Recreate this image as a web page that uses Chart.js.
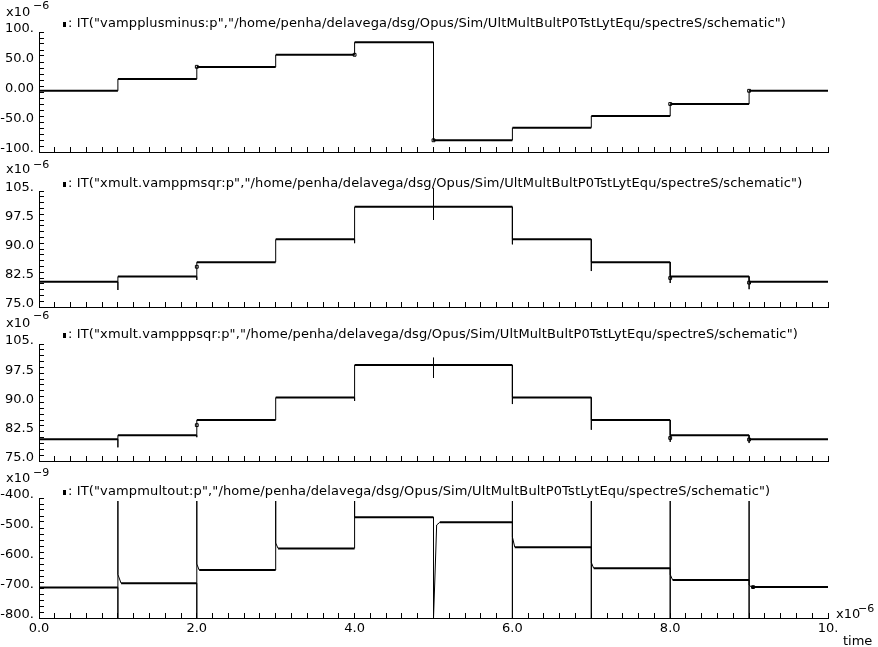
<!DOCTYPE html>
<html>
<head>
<meta charset="utf-8">
<script src="https://cdn.jsdelivr.net/npm/chart.js@4.4.1/dist/chart.umd.min.js"></script>
<style>
  html, body { margin: 0; padding: 0; background: #fff; }
  #page { position: relative; width: 878px; height: 647px; overflow: hidden;
          font-family: "DejaVu Sans", sans-serif; font-size: 13px; color: #000; }
  canvas { position: absolute; left: 0; }
  .txt { position: absolute; white-space: nowrap; line-height: 13px; }
  .ttl { letter-spacing: 0.13px; }
  .sup { position: absolute; white-space: nowrap; font-size: 11px; line-height: 11px; }
  .mark { display: inline-block; width: 3px; height: 5px; background: #000; margin-right: 2px; vertical-align: 0; }
</style>
</head>
<body>
<div id="page">
  <canvas id="c1" width="878" height="160" style="top:12px"></canvas>
  <canvas id="c2" width="878" height="156" style="top:171px"></canvas>
  <canvas id="c3" width="878" height="157" style="top:324px"></canvas>
  <canvas id="c4" width="878" height="170" style="top:478px"></canvas>

  <div class="txt" style="left:6px;top:5px">x10</div>
  <div class="sup" style="left:33px;top:0px">−6</div>
  <div class="txt ttl" style="left:63px;top:16px"><span class="mark"></span>: IT("vampplusminus:p","/home/penha/delavega/dsg/Opus/Sim/UltMultBultP0TstLytEqu/spectreS/schematic")</div>

  <div class="txt" style="left:6px;top:162px">x10</div>
  <div class="sup" style="left:33px;top:159px">−6</div>
  <div class="txt ttl" style="left:63px;top:176px"><span class="mark"></span>: IT("xmult.vamppmsqr:p","/home/penha/delavega/dsg/Opus/Sim/UltMultBultP0TstLytEqu/spectreS/schematic")</div>

  <div class="txt" style="left:6px;top:316px">x10</div>
  <div class="sup" style="left:33px;top:310px">−6</div>
  <div class="txt ttl" style="left:63px;top:327px"><span class="mark"></span>: IT("xmult.vampppsqr:p","/home/penha/delavega/dsg/Opus/Sim/UltMultBultP0TstLytEqu/spectreS/schematic")</div>

  <div class="txt" style="left:6px;top:471px">x10</div>
  <div class="sup" style="left:33px;top:467px">−9</div>
  <div class="txt ttl" style="left:63px;top:484px"><span class="mark"></span>: IT("vampmultout:p","/home/penha/delavega/dsg/Opus/Sim/UltMultBultP0TstLytEqu/spectreS/schematic")</div>

  <div class="txt" style="left:836px;top:607px">x10</div>
  <div class="sup" style="left:858px;top:603px">−6</div>
  <div class="txt" style="left:843px;top:634px">time</div>
</div>

<script>
// ---------- Data ----------
const timeTicks = [0, 2, 4, 6, 8, 10];
const timeTickLabels = ['0.0', '2.0', '4.0', '6.0', '8.0', '10.'];

// vampplusminus (x1e-6)
const pmTime = [0, 1, 1, 2, 2, 3, 3, 4, 4, 5, 5, 6, 6, 7, 7, 8, 8, 9, 9, 10];
const pmValue = [2, 2, 21.5, 21.5, 41.5, 41.5, 62, 62, 83, 83, -80.5, -80.5, -59.5, -59.5, -40, -40, -20, -20, 2, 2];
const pmMarkTime = [2, 4, 5, 8, 9];
const pmMarkValue = [42, 62, -80.5, -20, 2];
const pmTicks = [-100, -50, 0, 50, 100];
const pmTickLabels = ['-100.', '-50.0', '0.00', '50.0', '100.'];

// xmult.vamppmsqr (x1e-6)
const pmsqTime = [0, 1, 1, 1, 2, 2, 2, 3, 3, 4, 4, 4, 5, 5, 5, 5, 6, 6, 6, 7, 7, 7, 8, 8, 8, 9, 9, 9, 10];
const pmsqValue = [81.5, 81.5, 79.4, 82.9, 82.9, 82.0, 86.6, 86.6, 92.5, 92.5, 91.5, 100.9, 100.9, 105.8, 97.5, 100.9,
                   100.9, 91.2, 92.5, 92.5, 84.3, 86.6, 86.6, 81.2, 82.9, 82.9, 79.6, 81.5, 81.5];
const pmsqMarkTime = [2, 8, 9];
const pmsqMarkValue = [85.4, 82.5, 81.3];

// xmult.vampppsqr (x1e-6)
const ppsqTime = [0, 1, 1, 1, 2, 2, 2, 3, 3, 4, 4, 4, 5, 5, 5, 5, 6, 6, 6, 7, 7, 7, 8, 8, 8, 9, 9, 9, 10];
const ppsqValue = [80.6, 80.6, 78.5, 81.6, 81.6, 81.1, 85.5, 85.5, 91.3, 91.3, 90.4, 99.6, 99.6, 101.5, 96.3, 99.6,
                   99.6, 89.6, 91.3, 91.3, 83.0, 85.5, 85.5, 79.9, 81.6, 81.6, 79.6, 80.6, 80.6];
const ppsqMarkTime = [2, 8, 9];
const ppsqMarkValue = [84.2, 80.9, 80.5];

const sqrTicks = [75, 82.5, 90, 97.5, 105];
const sqrTickLabels = ['75.0', '82.5', '90.0', '97.5', '105.'];

// vampmultout (x1e-9)
const outTime = [0, 1, 1, 1, 1, 1.04, 2, 2, 2, 2, 2.03, 3, 3, 3, 3.03, 4, 4, 4,
                 5, 5, 5.02, 5.04, 5.08, 6, 6, 6, 6, 6.03, 7, 7, 7, 7, 7.03,
                 8, 8, 8, 8, 8.03, 9, 9, 9, 9, 9.03, 10];
const outValue = [-698, -698, -800, -410, -655, -684, -684, -800, -410, -620, -640, -640, -410, -550, -568, -568, -410, -464,
                  -464, -800, -650, -490, -481, -481, -410, -800, -530, -564, -564, -410, -800, -615, -634,
                  -634, -410, -800, -655, -673, -673, -410, -800, -690, -697, -697];
const outMarkTime = [9.05];
const outMarkValue = [-697];
const outTicks = [-800, -700, -600, -500, -400];
const outTickLabels = ['-800.', '-700.', '-600.', '-500.', '-400.'];

// ---------- Helpers ----------
const tickFont = { family: 'DejaVu Sans', size: 13 };

function labelFor(v, values, labels) {
  const i = values.findIndex(m => Math.abs(m - v) < 1e-6);
  return i >= 0 ? labels[i] : '';
}

// negative tickLength puts the tick marks inside the plot, like the waveform viewer
const axisGrid = { drawOnChartArea: false, drawTicks: true, tickLength: -5, color: '#000', lineWidth: 1 };

// ---------- Panel ----------
// top padding and x-axis height are kept larger than the y labels' overhang,
// so the plot area is exactly canvas height - 20 - x height
function renderPanel(id, time, value, markTime, markValue, yMin, yMax, yStep, yTicks, yTickLabels, showTime) {
  const ctx = document.getElementById(id).getContext('2d');
  return new Chart(ctx, {
    type: 'line',
    data: {
      datasets: [
        {
          data: time.map((t, i) => ({ x: t, y: value[i] })),
          borderColor: '#000',
          borderWidth: 2,
          pointRadius: 0,
          tension: 0,
          clip: 6,
          segment: { borderWidth: s => (s.p0.parsed.y === s.p1.parsed.y ? 2 : 1) }
        },
        {
          data: markTime.map((t, i) => ({ x: t, y: markValue[i] })),
          showLine: false,
          pointStyle: 'rect',
          pointRadius: 2,
          borderColor: '#000',
          borderWidth: 1,
          backgroundColor: '#fff',
          clip: 6
        }
      ]
    },
    options: {
      responsive: false,
      animation: false,
      events: [],
      layout: { autoPadding: false, padding: { top: 20, left: 0, right: 50, bottom: 0 } },
      plugins: { legend: { display: false }, tooltip: { enabled: false } },
      scales: {
        x: {
          type: 'linear',
          min: 0,
          max: 10,
          grid: axisGrid,
          border: { color: '#000', width: 1 },
          ticks: {
            stepSize: 0.2,
            autoSkip: false,
            maxRotation: 0,
            display: showTime,
            padding: 8,
            color: '#000',
            font: tickFont,
            callback: v => labelFor(v, timeTicks, timeTickLabels)
          },
          afterFit: s => { s.height = showTime ? 30 : 20; }
        },
        y: {
          type: 'linear',
          min: yMin,
          max: yMax,
          grid: axisGrid,
          border: { color: '#000', width: 1 },
          ticks: {
            stepSize: yStep,
            autoSkip: false,
            padding: 10,
            labelOffset: -3,
            color: '#000',
            font: tickFont,
            callback: v => labelFor(v, yTicks, yTickLabels)
          },
          afterFit: s => { s.width = 39; }
        }
      }
    }
  });
}

// ---------- Render ----------
renderPanel('c1', pmTime, pmValue, pmMarkTime, pmMarkValue, -100, 100, 10, pmTicks, pmTickLabels, false);
renderPanel('c2', pmsqTime, pmsqValue, pmsqMarkTime, pmsqMarkValue, 75, 105, 1.5, sqrTicks, sqrTickLabels, false);
renderPanel('c3', ppsqTime, ppsqValue, ppsqMarkTime, ppsqMarkValue, 75, 105, 1.5, sqrTicks, sqrTickLabels, false);
renderPanel('c4', outTime, outValue, outMarkTime, outMarkValue, -800, -400, 20, outTicks, outTickLabels, true);
</script>
</body>
</html>
